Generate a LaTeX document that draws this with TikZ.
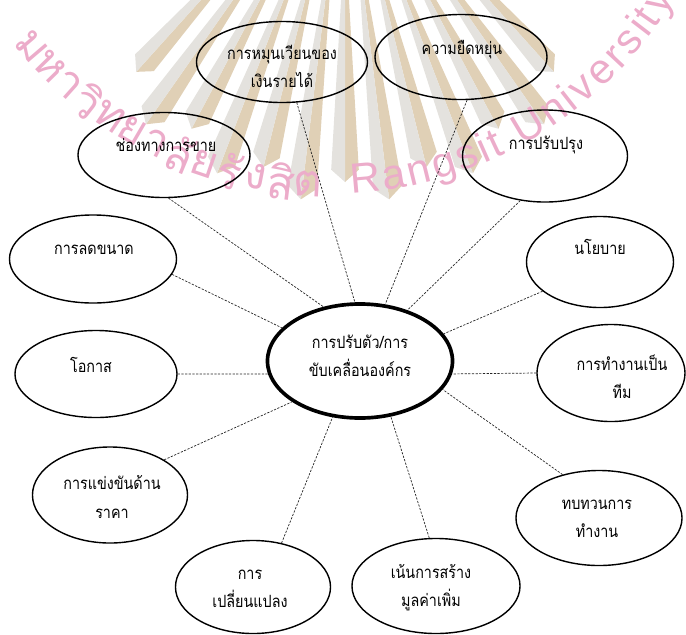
\documentclass[tikz,border=0pt]{standalone}
\usepackage{fontspec}
\setsansfont{Liberation Sans}
\newfontfamily\thai[Script=Thai,FakeStretch=0.85]{Loma}
\newfontfamily\thaimark[Script=Thai]{Loma}
\usetikzlibrary{shapes.geometric,decorations.text}
\definecolor{wmpink}{RGB}{236,172,202}
\definecolor{wmtan}{RGB}{224,208,182}
\definecolor{wmgrey}{RGB}{228,226,222}
\tikzset{
  blob/.style 2 args={ellipse,draw,line width=1pt,minimum width=#1,minimum height=#2,inner sep=0pt},
  lbl/.style={font=\thai\fontsize{12}{20}\selectfont,align=center,inner sep=0pt},
  link/.style={draw=black!85,line width=0.5pt,dash pattern=on 1.6pt off 1pt},
  wm/.style={text=wmpink,font=\thaimark\fontsize{32}{32}\selectfont,inner sep=0pt}
}
\begin{document}
\begin{tikzpicture}[x=0.025cm,y=-0.025cm]
        \useasboundingbox (0,0) rectangle (686,634);
        % seal in the background
        \begin{scope}
          \clip (0,0) rectangle (686,634);
          \begin{scope}[shift={(345,-160)}]
            \foreach \a/\r in {132/300,125/335,118/315,111/345,104/325,97/350,90/330,83/350,76/325,69/345,62/315,55/335,48/300} {
              \fill[wmtan] (\a:150) -- ({\a-1.3}:150) -- ({\a-2.4}:\r) -- (\a:{\r+12}) -- cycle;
              \fill[wmgrey] (\a:150) -- ({\a+1.3}:150) -- ({\a+2.4}:\r) -- (\a:{\r+12}) -- cycle;
            }
          \end{scope}
          \coordinate (seal) at (330,-208);
          \foreach \ch [count=\i] in {ม,ห,า,วิ,ท,ย,า,ลั,ย,รั,ง,สิ,ต} {
            \pgfmathsetmacro\a{139.5-3.85*(\i-1)}
            \node[wm,rotate={90-\a}] at ([shift={(\a:392)}]seal) (wm-\i) {\ch};
          }
          \path[decorate,decoration={text along path,text align={fit to path},
            text={|\sffamily\fontsize{30}{30}\selectfont\color{wmpink}|Rangsit University}}]
            plot[domain=87:31,samples=40] ({330+402*cos(\x)},{-208+402*sin(\x)});
        \end{scope}

        % ellipses
        \node[blob={4.625cm}{2.85cm},line width=2.6pt] at (360,361) (hub) {};
        \node[blob={4.275cm}{2.025cm}] at (282,62)  (cash) {};
        \node[blob={4.3cm}{2.125cm}]   at (461,57)  (flex) {};
        \node[blob={4.3cm}{2.125cm}]   at (164,155) (sales) {};
        \node[blob={4.125cm}{2.3cm}]   at (545,156) (improve) {};
        \node[blob={4.175cm}{2.2cm}]   at (93,259)  (downsize) {};
        \node[blob={3.675cm}{2.275cm}] at (600,262) (policy) {};
        \node[blob={4.05cm}{2.175cm}]  at (96,374)  (chance) {};
        \node[blob={3.7cm}{2.425cm}]   at (611,373) (team) {};
        \node[blob={3.875cm}{2.4cm}]   at (110,495) (price) {};
        \node[blob={3.875cm}{2.325cm}] at (253,587) (change) {};
        \node[blob={4.2cm}{2.375cm}]   at (436,586) (value) {};
        \node[blob={4.15cm}{2.375cm}]  at (599,518) (review) {};

        % labels
        \node[lbl] at (360,356) (hub-t) {การปรับตัว/การ\\ขับเคลื่อนองค์กร};
        \node[lbl] at (282,66)  (cash-t) {การหมุนเวียนของ\\เงินรายได้};
        \node[lbl] at (462,50)  (flex-t) {ความยืดหยุ่น};
        \node[lbl] at (166,145) (sales-t) {ช่องทางการขาย};
        \node[lbl] at (546,145) (improve-t) {การปรับปรุง};
        \node[lbl] at (94,250)  (downsize-t) {การลดขนาด};
        \node[lbl] at (600,247) (policy-t) {นโยบาย};
        \node[lbl] at (91,365)  (chance-t) {โอกาส};
        \node[lbl] at (622,377) (team-t) {การทำงานเป็น\\ทีม};
        \node[lbl] at (112,497) (price-t) {การแข่งขันด้าน\\ราคา};
        \node[lbl] at (250,589) (change-t) {การ\\เปลี่ยนแปลง};
        \node[lbl] at (431,588) (value-t) {เน้นการสร้าง\\มูลค่าเพิ่ม};
        \node[lbl] at (597,519) (review-t) {ทบทวนการ\\ทำงาน};

        \draw[link] (cash.-70) -- (hub.95);
        \draw[link] (flex.-82.6) -- (hub.66.7);
        \draw[link] (sales.-84.7) -- (hub.124);
        \draw[link] (improve.-119.6) -- (hub.47.8);
        \draw[link] (downsize.-11.3) -- (hub.157);
        \draw[link] (policy.-153) -- (hub.18.6);
        \draw[link] (chance.0) -- (hub.188);
        \draw[link] (team.180) -- (hub.-8);
        \draw[link] (price.33) -- (hub.211.8);
        \draw[link] (change.57.2) -- (hub.244.6);
        \draw[link] (value.98.3) -- (hub.-61.5);
        \draw[link] (review.130) -- (hub.-19.8);
      \end{tikzpicture}
\end{document}
